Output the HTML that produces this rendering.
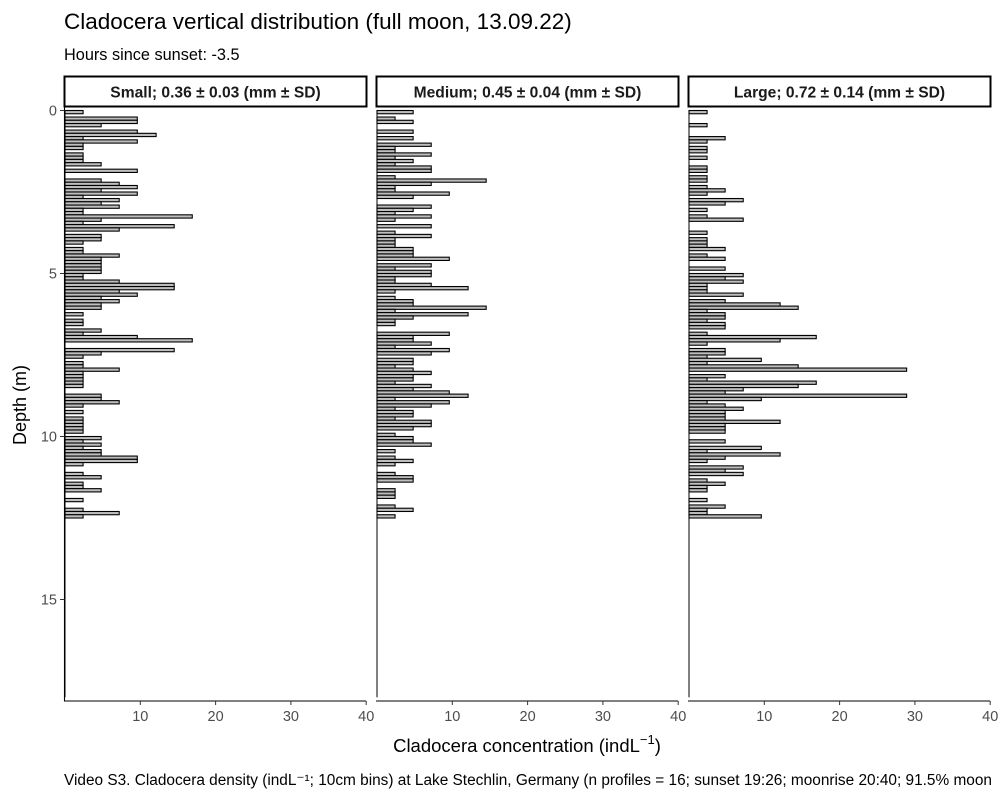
<!DOCTYPE html>
<html><head><meta charset="utf-8"><style>
body{margin:0;background:#fff;}
svg{display:block;font-family:"Liberation Sans",Arial,sans-serif;}
</style></head><body>
<svg id="chart" width="1000" height="800" viewBox="0 0 1000 800">
<text x="64" y="29" font-size="22.5" fill="#000">Cladocera vertical distribution (full moon, 13.09.22)</text>
<text x="64" y="60" font-size="16.3" fill="#000">Hours since sunset: -3.5</text>
<text transform="translate(26,405) rotate(-90)" text-anchor="middle" font-size="18" fill="#000">Depth (m)</text>
<text x="527" y="752" text-anchor="middle" font-size="18.5" fill="#000">Cladocera concentration (indL<tspan dy="-8" font-size="13">−1</tspan><tspan dy="8">)</tspan></text>
<text x="64" y="785" font-size="15.4" fill="#000">Video S3. Cladocera density (indL⁻¹; 10cm bins) at Lake Stechlin, Germany (n profiles = 16; sunset 19:26; moonrise 20:40; 91.5% moon</text>
<g id="plots"></g>
</svg>
<script>
const panelTitles = ["Small; 0.36 ± 0.03 (mm ± SD)", "Medium; 0.45 ± 0.04 (mm ± SD)", "Large; 0.72 ± 0.14 (mm ± SD)"];
const xTicks = [10, 20, 30, 40];
const yTicks = [0, 5, 10, 15];
const smallVals = [2.4,0,9.6,9.6,4.8,0,9.6,12.1,2.4,9.6,
2.4,2.4,0,2.4,2.4,2.4,4.8,0,9.6,0,
0,4.8,7.2,9.6,4.8,9.6,2.4,7.2,4.8,7.2,
2.4,2.4,16.9,4.8,2.4,14.5,7.2,0,4.8,4.8,
2.4,0,2.4,2.4,7.2,4.8,4.8,4.8,4.8,4.8,
2.4,2.4,7.2,14.5,14.5,7.2,9.6,4.8,7.2,4.8,
4.8,0,2.4,0,2.4,2.4,0,4.8,2.4,9.6,
16.9,0,0,14.5,4.8,2.4,0,2.4,2.4,7.2,
2.4,2.4,2.4,2.4,2.4,0,0,4.8,4.8,7.2,
2.4,0,2.4,0,2.4,2.4,2.4,2.4,2.4,0,
4.8,2.4,4.8,2.4,4.8,4.8,9.6,9.6,2.4,0,
0,2.4,4.8,0,2.4,2.4,4.8,0,0,2.4,
0,0,2.4,7.2,2.4];
const mediumVals = [4.8,0,2.4,4.8,0,0,4.8,0,4.8,0,
7.2,2.4,2.4,7.2,2.4,4.8,2.4,7.2,7.2,0,
2.4,14.5,7.2,2.4,2.4,9.6,4.8,0,0,7.2,
4.8,2.4,7.2,2.4,0,7.2,0,2.4,7.2,2.4,
2.4,2.4,4.8,4.8,4.8,9.6,0,7.2,2.4,7.2,
7.2,2.4,2.4,7.2,12.1,2.4,0,2.4,4.8,4.8,
14.5,2.4,12.1,4.8,2.4,2.4,0,0,9.6,4.8,
4.8,7.2,2.4,9.6,7.2,0,4.8,4.8,2.4,4.8,
7.2,4.8,4.8,2.4,7.2,4.8,9.6,12.1,2.4,9.6,
7.2,2.4,4.8,4.8,2.4,7.2,7.2,4.8,0,2.4,
4.8,4.8,7.2,0,2.4,0,2.4,4.8,2.4,0,
0,2.4,4.8,4.8,0,0,2.4,2.4,2.4,0,
0,2.4,4.8,0,2.4];
const largeVals = [2.4,0,0,0,2.4,0,0,0,4.8,2.4,
0,2.4,2.4,0,2.4,0,0,2.4,2.4,0,
2.4,2.4,0,2.4,4.8,2.4,0,7.2,4.8,0,
2.4,0,2.4,7.2,0,0,0,2.4,0,2.4,
2.4,2.4,4.8,0,2.4,4.8,0,0,4.8,0,
7.2,4.8,7.2,2.4,2.4,2.4,7.2,0,4.8,12.1,
14.5,2.4,4.8,4.8,2.4,4.8,4.8,0,2.4,16.9,
12.1,2.4,0,4.8,4.8,2.4,9.6,2.4,14.5,28.9,
0,4.8,2.4,16.9,14.5,7.2,4.8,28.9,9.6,2.4,
4.8,7.2,4.8,4.8,4.8,12.1,4.8,4.8,4.8,0,
0,4.8,0,9.6,2.4,12.1,4.8,2.4,0,7.2,
4.8,7.2,0,2.4,4.8,2.4,2.4,0,0,2.4,
0,4.8,2.4,2.4,9.6];
const depthBins = smallVals.map((v, i) => +(i * 0.1).toFixed(1));
const binWidth = 0.1;

const NS = "http://www.w3.org/2000/svg";
const g = document.getElementById("plots");
const panelLeft = [65, 377, 689];
const panelW = 302;
const xScale = v => v * 7.53;
const yScale = d => 110.5 + d * 32.6;
const series = [smallVals, mediumVals, largeVals];
const names = ["small", "medium", "large"];
function mk(tag, attrs) { const e = document.createElementNS(NS, tag); for (const k in attrs) e.setAttribute(k, attrs[k]); return e; }

series.forEach((vals, p) => {
  const x0 = panelLeft[p];
  const pg = mk("g", {});
  
  
  g.appendChild(pg);
  const strip = mk("rect", {x: x0 - 0.5, y: 76.5, width: panelW, height: 30, fill: "#fff", stroke: "#000", "stroke-width": 2});
  
  
  pg.appendChild(strip);
  const st = mk("text", {x: x0 - 0.5 + panelW / 2, y: 97.5, "text-anchor": "middle", "font-size": 15.6, "font-weight": "bold", fill: "#1a1a1a"});
  st.textContent = panelTitles[p];
  
  
  pg.appendChild(st);
  const zl = mk("line", {x1: x0, x2: x0, y1: yScale(0), y2: yScale(18), stroke: "#000", "stroke-width": 1});
  
  
  pg.appendChild(zl);
  vals.forEach((v, i) => {
    if (v <= 0) return;
    const y = yScale(depthBins[i]);
    const r = mk("rect", {x: x0, y: y, width: xScale(v), height: yScale(depthBins[i] + binWidth) - y, fill: "#bebebe", stroke: "#000", "stroke-width": 1.1});
    
    
    pg.appendChild(r);
  });
  const ax = mk("line", {x1: x0 - 1, x2: x0 + panelW - 1, y1: 701, y2: 701, stroke: "#000", "stroke-width": 1.1});
  
  
  pg.appendChild(ax);
  xTicks.forEach(t => {
    const tx = x0 + xScale(t);
    const tk = mk("line", {x1: tx, x2: tx, y1: 701, y2: 705, stroke: "#333", "stroke-width": 1});
    
    
    pg.appendChild(tk);
    const tl = mk("text", {x: tx, y: 721, "text-anchor": "middle", "font-size": 14.5, fill: "#4d4d4d"});
    tl.textContent = t;
    
    
    pg.appendChild(tl);
  });
});
const yax = mk("line", {x1: 64.5, x2: 64.5, y1: 105, y2: 701, stroke: "#000", "stroke-width": 1.1});


g.appendChild(yax);
yTicks.forEach(t => {
  const y = yScale(t);
  const tk = mk("line", {x1: 60, x2: 64.5, y1: y, y2: y, stroke: "#333", "stroke-width": 1});
  
  
  g.appendChild(tk);
  const tl = mk("text", {x: 57, y: y + 5, "text-anchor": "end", "font-size": 14.5, fill: "#4d4d4d"});
  tl.textContent = t;
  
  
  g.appendChild(tl);
});
</script>
</body></html>
